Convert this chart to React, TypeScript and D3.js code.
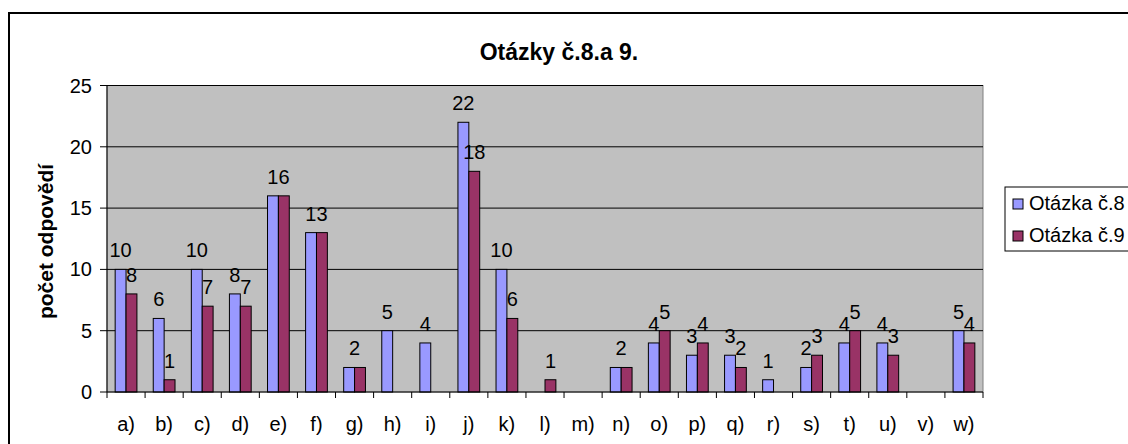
import React from "react";
import * as d3 from "d3";

const categories = ["a)", "b)", "c)", "d)", "e)", "f)", "g)", "h)", "i)", "j)", "k)", "l)", "m)", "n)", "o)", "p)", "q)", "r)", "s)", "t)", "u)", "v)", "w)"];
const seriesNames = ["Otázka č.8", "Otázka č.9"];
const otazka8 = [10, 6, 10, 8, 16, 13, 2, 5, 4, 22, 10, 0, 0, 2, 4, 3, 3, 1, 2, 4, 4, 0, 5];
const otazka9 = [8, 1, 7, 7, 16, 13, 2, 0, 0, 18, 6, 1, 0, 2, 5, 4, 2, 0, 3, 5, 3, 0, 4];
const yTicks = [0, 5, 10, 15, 20, 25];
const title = "Otázky č.8.a 9.";
const yTitle = "počet odpovědí";

const colors = ["#9999FF", "#993366"];
const FONT = "'Liberation Sans', Arial, sans-serif";

export default function App() {
  const W = 1128, H = 444;
  const left = 107, right = 983, top = 85.5, bottom = 392;
  const x = d3.scaleBand<string>().domain(categories).range([left, right]).paddingInner(0).paddingOuter(0);
  const y = d3.scaleLinear().domain([0, 25]).range([bottom, top]);
  const step = x.bandwidth();
  const bw = step / 3.5;
  const inner = d3.scaleBand<number>().domain([0, 1]).range([0.75 * bw, 0.75 * bw + 2 * bw]);
  const series = [otazka8, otazka9];

  const labels: { x: number; y: number; t: string }[] = [];
  categories.forEach((c, i) => {
    const v1 = otazka8[i], v2 = otazka9[i];
    if (v1 > 0 && v1 === v2) {
      labels.push({ x: (x(c) as number) + step / 2, y: y(v1) - 12, t: String(v1) });
    } else {
      series.forEach((s, si) => {
        if (s[i] > 0) {
          labels.push({ x: (x(c) as number) + (inner(si) as number) + bw / 2, y: y(s[i]) - 12, t: String(s[i]) });
        }
      });
    }
  });

  return (
    <svg width={W} height={H} style={{ position: "absolute", left: 0, top: 0, background: "#fff" }} fontFamily={FONT}>
      <rect x={9} y={13} width={1300} height={600} fill="#fff" stroke="#000" strokeWidth={2} />
      <text x={559} y={60} textAnchor="middle" fontSize={23} fontWeight="bold">{title}</text>
      <text transform={`translate(53,${(160 + 323) / 2}) rotate(-90)`} textAnchor="middle" fontSize={21} fontWeight="bold">{yTitle}</text>

      <rect x={left} y={top} width={right - left} height={bottom - top} fill="#C0C0C0" stroke="#808080" strokeWidth={1} />
      {yTicks.slice(1).map((t) => (
        <line key={"g" + t} x1={left} x2={right} y1={y(t)} y2={y(t)} stroke="#000" strokeWidth={1} />
      ))}

      {categories.map((c, i) =>
        series.map((s, si) =>
          s[i] > 0 ? (
            <rect key={c + si} x={(x(c) as number) + (inner(si) as number)} y={y(s[i])} width={bw} height={bottom - y(s[i])} fill={colors[si]} stroke="#000" strokeWidth={1} />
          ) : null
        )
      )}

      <line x1={left} x2={left} y1={top} y2={bottom} stroke="#000" />
      <line x1={left} x2={right} y1={bottom} y2={bottom} stroke="#000" />
      {yTicks.map((t) => (
        <g key={"t" + t}>
          <line x1={left - 7} x2={left} y1={y(t)} y2={y(t)} stroke="#000" />
          <text x={92} y={y(t)} dy="0.35em" textAnchor="end" fontSize={20}>{t}</text>
        </g>
      ))}
      {[...categories.map((c) => x(c) as number), right].map((px, i) => (
        <line key={"xt" + i} x1={px} x2={px} y1={bottom} y2={bottom + 6} stroke="#000" />
      ))}
      {categories.map((c) => (
        <text key={"xl" + c} x={(x(c) as number) + step / 2} y={431} textAnchor="middle" fontSize={20}>{c}</text>
      ))}

      {labels.map((l, i) => (
        <text key={"l" + i} x={l.x} y={l.y} textAnchor="middle" fontSize={20}>{l.t}</text>
      ))}

      <rect x={1005} y={187} width={200} height={64} fill="#fff" stroke="#000" strokeWidth={1} />
      {seriesNames.map((n, i) => (
        <g key={n}>
          <rect x={1013} y={199 + i * 32} width={10} height={10} fill={colors[i]} stroke="#000" />
          <text x={1029} y={210 + i * 31.7} fontSize={20}>{n}</text>
        </g>
      ))}
    </svg>
  );
}
